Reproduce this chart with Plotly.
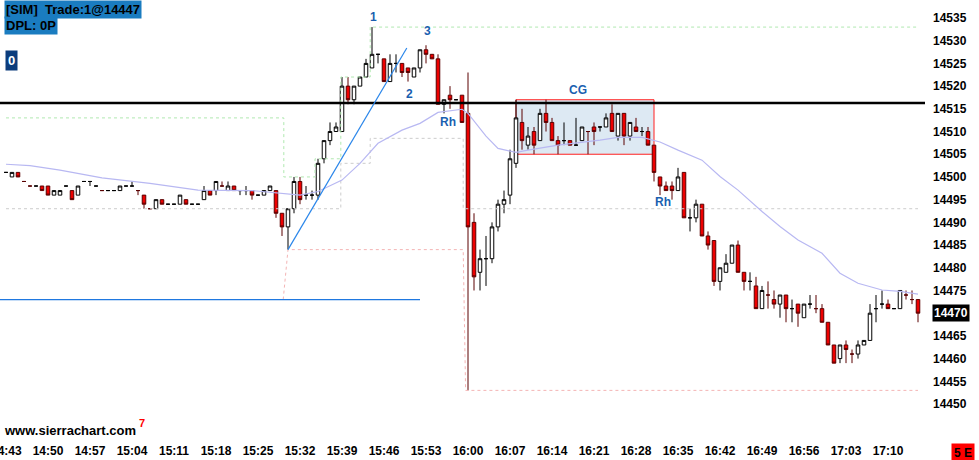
import pandas as pd
import plotly.graph_objects as go

# ---------------- data ----------------
session_start = "2013-05-20 14:43"
n_bars = 153

opens = [14501,14500,14501,14499,14498,14498,14498,14498,14496,14496,
         14498,14497,14496,14499,14499,14498,14497,14497,14497,14497,
         14498,14498,14497,14496,14493,14493,14495,14494,14494,14494,
         14495,14494,14494,14495,14497,14497,14498,14497,14498,14497,
         14497,14497,14496,14496,14497,14497,14492,14489,14493,14499,
         14496,14496,14496,14504,14508,14510,14510,14520,14517,14520,
         14522,14524,14527,14526,14521,14525,14525,14524,14522,14524,
         14528,14527,14526,14516,14518,14517,14518,14514,14490,14479,
         14482,14482,14489,14494,14496,14503,14512,14507,14510,14508,
         14514,14512,14508,14508,14508,14507,14508,14510,14511,14511,
         14511,14514,14509,14514,14509,14511,14510,14510,14507,14500,
         14498,14498,14497,14501,14491,14491,14494,14487,14486,14477,
         14479,14481,14485,14479,14477,14476,14471,14474,14473,14472,
         14474,14471,14472,14469,14472,14471,14471,14468,14463,14460,
         14463,14461,14461,14463,14464,14471,14472,14472,14471,14471,
         14474,14473,14473]
highs = [14501,14501,14501,14499,14498,14498,14498,14498,14497,14497,
         14498,14497,14498,14499,14499,14498,14497,14497,14497,14498,
         14498,14499,14497,14496,14493,14495,14495,14494,14494,14496,
         14495,14494,14494,14498,14497,14499,14499,14499,14498,14497,
         14498,14497,14496,14497,14498,14497,14492,14493,14500,14500,
         14498,14497,14504,14508,14512,14512,14522,14522,14520,14522,
         14526,14533,14527,14526,14527,14527,14525,14524,14524,14528,
         14529,14527,14527,14517,14520,14517,14518,14523,14492,14484,
         14487,14490,14495,14497,14506,14517,14515,14511,14511,14515,
         14517,14513,14509,14512,14508,14513,14511,14510,14512,14511,
         14514,14516,14514,14514,14512,14513,14511,14511,14507,14500,
         14499,14499,14502,14501,14493,14495,14494,14488,14486,14480,
         14483,14485,14486,14479,14479,14478,14476,14477,14475,14474,
         14474,14473,14472,14472,14474,14474,14472,14468,14463,14463,
         14464,14462,14464,14464,14472,14474,14475,14473,14471,14475,
         14475,14475,14473]
lows = [14501,14500,14500,14499,14498,14498,14497,14496,14496,14496,
        14498,14495,14496,14499,14498,14498,14497,14497,14497,14497,
        14498,14498,14496,14493,14493,14493,14494,14494,14494,14494,
        14494,14494,14494,14495,14496,14496,14498,14497,14497,14496,
        14496,14495,14496,14496,14497,14491,14487,14484,14492,14494,
        14495,14495,14495,14503,14507,14510,14510,14516,14516,14520,
        14522,14524,14525,14521,14521,14523,14522,14521,14522,14523,
        14525,14526,14516,14514,14515,14517,14512,14453,14475,14475,
        14476,14481,14488,14492,14494,14502,14506,14506,14505,14508,
        14510,14508,14505,14507,14507,14507,14508,14505,14507,14510,
        14511,14510,14508,14507,14508,14510,14509,14507,14499,14496,
        14497,14495,14497,14491,14488,14490,14487,14484,14476,14475,
        14479,14481,14479,14475,14475,14471,14471,14471,14471,14469,
        14468,14468,14467,14469,14471,14470,14468,14463,14459,14459,
        14459,14459,14460,14463,14464,14468,14471,14471,14471,14471,
        14473,14472,14468]
closes = [14501,14501,14500,14499,14498,14498,14497,14496,14497,14497,
          14498,14495,14498,14499,14499,14498,14497,14497,14497,14498,
          14498,14498,14497,14494,14493,14495,14494,14494,14494,14496,
          14494,14494,14494,14497,14496,14499,14498,14498,14497,14497,
          14497,14496,14496,14497,14498,14492,14489,14493,14499,14495,
          14496,14496,14503,14508,14510,14511,14520,14517,14520,14522,
          14525,14527,14527,14521,14525,14525,14523,14523,14524,14528,
          14527,14526,14516,14517,14517,14517,14512,14489,14478,14482,
          14482,14489,14494,14495,14504,14513,14508,14509,14507,14514,
          14512,14508,14507,14508,14507,14507,14511,14510,14510,14511,
          14513,14510,14514,14509,14512,14510,14510,14507,14501,14498,
          14497,14497,14500,14491,14491,14494,14487,14485,14477,14480,
          14481,14485,14479,14477,14477,14471,14475,14474,14472,14474,
          14471,14471,14470,14472,14472,14471,14468,14463,14459,14463,
          14462,14461,14463,14464,14470,14471,14472,14471,14471,14475,
          14474,14473,14470]

# moving average readings: (bar index, value)
ma_bars = [0, 4, 9, 16, 24, 32, 41, 46, 49, 52, 56, 59, 62, 66, 69, 72, 76, 77,
           79, 80, 82, 85, 87, 92, 99, 102, 106, 109, 112, 116, 119, 122, 126,
           129, 132, 136, 139, 142, 146, 149, 152]
ma_vals = [14502.8, 14502.5, 14501.5, 14499.8, 14498.6, 14497.1, 14497.0, 14496.4,
           14496.0, 14496.8, 14499.3, 14503.0, 14507.4, 14510.3, 14511.8, 14514.2,
           14514.9, 14514.0, 14510.5, 14509.0, 14506.3, 14505.4, 14505.9, 14507.0,
           14508.1, 14508.7, 14508.7, 14507.7, 14505.9, 14503.7, 14500.1, 14497.1,
           14492.4, 14489.1, 14486.1, 14483.2, 14478.8, 14476.6, 14475.1, 14474.8,
           14474.2]

# dotted study lines: (bar index, price)
green_bars = [0, 46.3, 46.3, 51.5, 51.5, 55.8, 55.8, 60.7, 60.7, 152]
green_vals = [14513, 14513, 14500, 14500, 14504, 14504, 14522, 14522, 14533, 14533]
gray_bars = [0, 55.8, 55.8, 60.7, 60.7, 76.2, 76.2, 152]
gray_vals = [14493, 14493, 14503, 14503, 14508.5, 14508.5, 14493, 14493]
pink_bars = [46.2, 47, 76.2, 76.6, 152]
pink_vals = [14473, 14484, 14484, 14453, 14453]

ref_level = 14516.3
support_level = 14473
support_end_bar = 69
trend_bars = [47, 66.8]
trend_vals = [14484, 14528.4]
cg_bars = [85, 108]
cg_vals = [14505, 14517]

labels = [("1", 61.33, 14535.3), ("3", 70.33, 14532.1), ("2", 67.33, 14518.3),
          ("Rh", 73.6, 14512.1), ("CG", 95.33, 14519.2), ("Rh", 109.5, 14494.4)]
price_ticks = list(range(14450, 14540, 5))
last_price = 14470
first_time_label = "14:43"

# ---------------- helpers ----------------
t0 = pd.Timestamp(session_start)
def T(b):
    return t0 + pd.Timedelta(minutes=b)

times = [T(i) for i in range(n_bars)]

# split out dojis that Sierra draws in black (close not lower than previous close)
black_idx, main_idx = [], []
for i in range(n_bars):
    prev = closes[i - 1] if i > 0 else closes[i]
    if opens[i] == closes[i] and closes[i] >= prev:
        black_idx.append(i)
    else:
        main_idx.append(i)

def sub(lst, idx):
    return [lst[k] for k in idx]

FONT = "Liberation Sans"
BLUE_TXT = "#1a5fb0"

fig = go.Figure()

fig.add_trace(go.Scatter(x=[T(b) for b in green_bars], y=green_vals, mode="lines",
                         line=dict(color="#b0e8b0", width=1, dash="dot"), hoverinfo="skip"))
fig.add_trace(go.Scatter(x=[T(b) for b in gray_bars], y=gray_vals, mode="lines",
                         line=dict(color="#cccccc", width=1, dash="dot"), hoverinfo="skip"))
fig.add_trace(go.Scatter(x=[T(b) for b in pink_bars], y=pink_vals, mode="lines",
                         line=dict(color="#f4b4b4", width=1, dash="dot"), hoverinfo="skip"))
fig.add_trace(go.Scatter(x=[T(b) for b in ma_bars], y=ma_vals, mode="lines",
                         line=dict(color="#b8b8f2", width=1.2), hoverinfo="skip"))

fig.add_trace(go.Candlestick(
    x=sub(times, main_idx), open=sub(opens, main_idx), high=sub(highs, main_idx),
    low=sub(lows, main_idx), close=sub(closes, main_idx),
    increasing=dict(line=dict(color="black", width=1), fillcolor="white"),
    decreasing=dict(line=dict(color="#5a0000", width=1), fillcolor="#ee0000"),
    whiskerwidth=0))
fig.add_trace(go.Candlestick(
    x=sub(times, black_idx), open=sub(opens, black_idx), high=sub(highs, black_idx),
    low=sub(lows, black_idx), close=sub(closes, black_idx),
    increasing=dict(line=dict(color="black", width=1), fillcolor="white"),
    decreasing=dict(line=dict(color="black", width=1), fillcolor="black"),
    whiskerwidth=0))

shapes = [
    dict(type="rect", xref="x", yref="y", x0=T(cg_bars[0]), x1=T(cg_bars[1]),
         y0=cg_vals[0], y1=cg_vals[1], fillcolor="#dde9f3",
         line=dict(color="#ff2020", width=1), layer="below"),
    dict(type="line", xref="paper", yref="y", x0=0, x1=1, y0=ref_level, y1=ref_level,
         line=dict(color="black", width=2.5)),
    dict(type="line", xref="x", yref="y", x0=T(-1), x1=T(support_end_bar),
         y0=support_level, y1=support_level, line=dict(color="#1f78e0", width=1.2)),
    dict(type="line", xref="x", yref="y", x0=T(trend_bars[0]), x1=T(trend_bars[1]),
         y0=trend_vals[0], y1=trend_vals[1], line=dict(color="#2a86ea", width=1.2)),
]

ann = []
for txt, b, p in labels:
    ann.append(dict(x=T(b), y=p, xref="x", yref="y", text=txt, showarrow=False,
                    font=dict(family=FONT, size=12, color=BLUE_TXT, weight="bold")))

PW = 925.0
PH = 440.0
ann += [
    dict(xref="paper", yref="paper", x=4 / PW, y=1, xanchor="left", yanchor="top",
         text="[SIM]\u00a0\u00a0Trade:1@14447", showarrow=False, bgcolor="#1a7cc0",
         borderpad=1, font=dict(family=FONT, size=13, color="black", weight="bold")),
    dict(xref="paper", yref="paper", x=4 / PW, y=1 - 16 / PH, xanchor="left", yanchor="top",
         text="DPL: 0P", showarrow=False, bgcolor="#1a7cc0",
         borderpad=1, font=dict(family=FONT, size=13, color="black", weight="bold")),
    dict(xref="paper", yref="paper", x=5 / PW, y=1 - 50 / PH, xanchor="left", yanchor="top",
         text="0", showarrow=False, bgcolor="#0c3d7c", borderpad=2,
         font=dict(family=FONT, size=13, color="white", weight="bold")),
    dict(xref="paper", yref="paper", x=2 / PW, y=1 - 430 / PH, xanchor="left", yanchor="middle",
         text="www.sierrachart.com", showarrow=False,
         font=dict(family=FONT, size=13, color="black", weight="bold")),
    dict(xref="paper", yref="paper", x=137 / PW, y=1 - 423 / PH, xanchor="left", yanchor="middle",
         text="7", showarrow=False,
         font=dict(family=FONT, size=11, color="#ff0000", weight="bold")),
    dict(xref="x", yref="paper", x=T(0), y=0, yshift=-3, xanchor="center", yanchor="top",
         text=first_time_label, showarrow=False, borderpad=0,
         font=dict(family=FONT, size=12, color="black", weight="bold")),
    dict(xref="paper", yref="y", x=1, xshift=7, y=last_price, xanchor="left", yanchor="middle",
         text=str(last_price), showarrow=False, bgcolor="black", borderpad=1,
         font=dict(family=FONT, size=12, color="white", weight="bold")),
    dict(xref="paper", yref="paper", x=1, xshift=26, y=0, yshift=-3, xanchor="left", yanchor="top",
         text="5 E", showarrow=False, bgcolor="#ff0000", borderpad=2,
         font=dict(family=FONT, size=12, color="black", weight="bold")),
]

fig.update_layout(
    width=979, height=460,
    margin=dict(l=0, r=979 - 925, t=0, b=460 - 440),
    paper_bgcolor="white", plot_bgcolor="white",
    showlegend=False, boxgap=0.15,
    shapes=shapes, annotations=ann,
    xaxis=dict(type="date", range=[T(-1), T(-1 + 925 / 6)], rangeslider=dict(visible=False),
               showgrid=False, zeroline=False, showline=False, ticks="",
               tick0=T(0), dtick=7 * 60 * 1000, tickformat="%H:%M",
               tickfont=dict(family=FONT, size=12, color="black", weight="bold"),
               ticklabelstandoff=2),
    yaxis=dict(side="right", range=[14450 - 36 / 4.543, 14535 + 18 / 4.543],
               showgrid=False, zeroline=False, showline=False, ticks="",
               tickvals=price_ticks, ticktext=[str(v) for v in price_ticks],
               tickfont=dict(family=FONT, size=12, color="black", weight="bold"),
               ticklabelstandoff=7),
)

fig.write_html("out.html", config={"displayModeBar": False},
               post_script="document.body.style.margin='0';document.body.style.overflow='hidden';")
